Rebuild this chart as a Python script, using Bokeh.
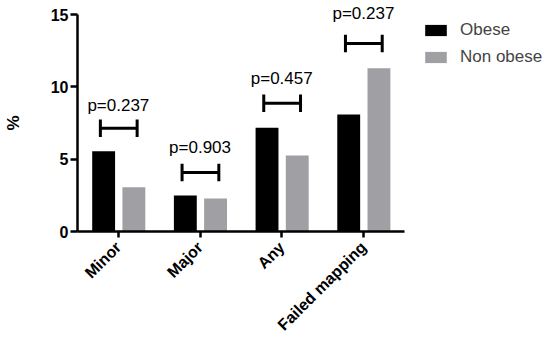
import math
from bokeh.plotting import figure
from bokeh.models import ColumnDataSource, Range1d, Legend, LegendItem, FixedTicker
from bokeh.transform import dodge
from bokeh.core.properties import value
from bokeh.embed import file_html
from bokeh.resources import INLINE

categories = ["Minor", "Major", "Any", "Failed mapping"]
obese = [5.55, 2.49, 7.17, 8.09]
non_obese = [3.06, 2.28, 5.25, 11.29]
p_values = ["p=0.237", "p=0.903", "p=0.457", "p=0.237"]
bracket_y = [7.14, 4.08, 8.87, 13.0]
label_y = [8.7, 5.8, 10.6, 15.05]
y_ticks = [0, 5, 10, 15]

FONT = "Liberation Sans"
xs = list(range(len(categories)))

src = ColumnDataSource(dict(x=xs, obese=obese, non_obese=non_obese))
br = ColumnDataSource(dict(x=xs, y=bracket_y, ly=label_y, p=p_values,
                           ytop=[b + 0.6 for b in bracket_y], ybot=[b - 0.6 for b in bracket_y]))

p = figure(width=550, height=338, x_range=Range1d(-1.4425, 5.29), y_range=Range1d(-7.39, 15.97),
           output_backend="svg", toolbar_location=None,
           min_border_left=0, min_border_right=0, min_border_top=0, min_border_bottom=0)
p.grid.visible = False
p.outline_line_color = None

r1 = p.vbar(x=dodge("x", -0.18), top="obese", bottom=0, width=0.28, source=src,
            fill_color="black", line_color=None)
r2 = p.vbar(x=dodge("x", 0.19), top="non_obese", bottom=0, width=0.28, source=src,
            fill_color="#a0a0a4", line_color=None)

lw = 3
p.segment(x0=dodge("x", -0.22), x1=dodge("x", 0.23), y0="y", y1="y", source=br,
          line_color="black", line_width=lw)
p.segment(x0=dodge("x", -0.22), x1=dodge("x", -0.22), y0="ybot", y1="ytop", source=br,
          line_color="black", line_width=lw)
p.segment(x0=dodge("x", 0.23), x1=dodge("x", 0.23), y0="ybot", y1="ytop", source=br,
          line_color="black", line_width=lw)
p.text(x="x", y="ly", text="p", source=br, text_align="center", text_baseline="middle",
       text_font=value(FONT), text_font_size="17px", text_color="black")

# axes
p.xaxis.ticker = FixedTicker(ticks=xs)
p.xaxis.major_label_overrides = {i: c for i, c in zip(xs, categories)}
p.xaxis.bounds = (-0.5, len(categories) - 0.5)
p.xaxis.fixed_location = 0
p.yaxis.ticker = FixedTicker(ticks=y_ticks)
p.yaxis.bounds = (0, 15)
p.yaxis.fixed_location = -0.5
p.yaxis.axis_label = "%"
p.yaxis.axis_label_text_font = FONT
p.yaxis.axis_label_text_font_style = "bold"
p.yaxis.axis_label_text_font_size = "17px"
p.yaxis.axis_label_text_color = "black"
p.yaxis.axis_label_standoff = 25
for ax in (p.xaxis[0], p.yaxis[0]):
    ax.axis_line_width = 2.5
    ax.axis_line_color = "black"
    ax.major_tick_line_width = 2.5
    ax.major_tick_line_color = "black"
    ax.minor_tick_line_color = None
    ax.major_label_text_font = FONT
    ax.major_label_text_font_style = "bold"
    ax.major_label_text_color = "black"
p.yaxis.major_label_text_font_size = "16px"
p.xaxis.major_label_text_font_size = "16px"
p.yaxis.major_tick_out = 7
p.yaxis.major_tick_in = 0
p.yaxis.major_label_standoff = 2
p.xaxis.major_tick_out = 6
p.xaxis.major_tick_in = 0
p.xaxis.major_label_orientation = math.pi / 4
p.xaxis.major_label_standoff = 7

legend = Legend(items=[LegendItem(label="Obese", renderers=[r1]),
                       LegendItem(label="Non obese", renderers=[r2])],
                location=(422, 271), orientation="vertical",
                glyph_width=27, glyph_height=14, label_height=14, spacing=7,
                label_standoff=11, padding=0, margin=0,
                border_line_color=None, background_fill_alpha=0,
                label_text_font=FONT, label_text_font_size="17px")
p.add_layout(legend, "center")

open("out.html", "w").write(file_html(p, INLINE))
